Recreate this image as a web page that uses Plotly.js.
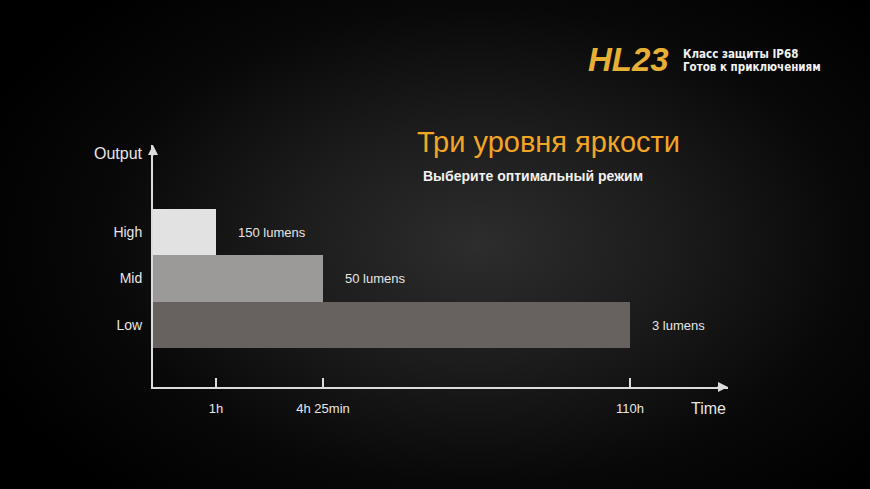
<!DOCTYPE html>
<html>
<head>
<meta charset="utf-8">
<script src="https://cdn.plot.ly/plotly-3.0.1.min.js"></script>
<style>
  html, body { margin:0; padding:0; width:870px; height:489px; overflow:hidden;
    background: radial-gradient(ellipse 62% 70% at 55% 50%, #2d2d2d 0%, #1c1c1c 35%, #080808 70%, #000 100%); }
  #chart { width:870px; height:489px; }
</style>
</head>
<body>
<div id="chart"></div>
<script>
// ---- data ----
const levels = ['Low', 'Mid', 'High'];
const lumens = [3, 50, 150];
const runtimeHours = [110, 4 + 25 / 60, 1];
const runtimeLabels = ['110h', '4h 25min', '1h'];
const lumenLabels = ['3 lumens', '50 lumens', '150 lumens'];

// ---- style ----
const barColors = ['#67625f', '#9b9a99', '#e2e2e2'];
const axisColor = '#dcdcdc';
const textColor = '#e6e6e6';
const font = 'Liberation Sans, Arial, sans-serif';
const narrow = '"DejaVu Sans Condensed", "Liberation Sans Narrow", Liberation Sans, sans-serif';
// non-linear (broken) time scale used by the original artwork: hours -> axis units
const timeStops = { hours: [0, 1, 4 + 25 / 60, 110], units: [0, 63, 170, 477] };
function timeScale(h) {
  const H = timeStops.hours, U = timeStops.units;
  for (let i = 1; i < H.length; i++) {
    if (h <= H[i]) return U[i - 1] + (h - H[i - 1]) / (H[i] - H[i - 1]) * (U[i] - U[i - 1]);
  }
  return U[U.length - 1];
}
const xs = runtimeHours.map(timeScale);

const trace = {
  type: 'bar', orientation: 'h',
  y: levels, x: xs, base: 0, width: 1,
  marker: { color: barColors, line: { width: 0 } },
  customdata: lumens, hoverinfo: 'skip'
};

const annotations = [];
levels.forEach((lv, i) => {
  annotations.push({ x: xs[i], y: lv, xref: 'x', yref: 'y', text: lumenLabels[i],
    showarrow: false, xanchor: 'left', xshift: 20, font: { family: font, size: 13, color: textColor } });
});
// axis arrowheads
annotations.push({ xref: 'paper', yref: 'paper', x: 1, y: 0, ax: -12, ay: 0, axref: 'pixel', ayref: 'pixel',
  text: '', showarrow: true, arrowhead: 2, arrowsize: 1, arrowwidth: 2, arrowcolor: axisColor });
annotations.push({ xref: 'paper', yref: 'paper', x: 0, y: 1, ax: 0, ay: 12, axref: 'pixel', ayref: 'pixel',
  text: '', showarrow: true, arrowhead: 2, arrowsize: 1, arrowwidth: 2, arrowcolor: axisColor });
// axis titles
annotations.push({ xref: 'paper', yref: 'paper', x: 0, y: 1, xanchor: 'right', yanchor: 'middle',
  xshift: -8, yshift: -8, text: 'Output', showarrow: false, font: { family: font, size: 16, color: textColor } });
annotations.push({ xref: 'paper', yref: 'paper', x: 1, y: 0, xanchor: 'right', yanchor: 'middle',
  yshift: -21, text: 'Time', showarrow: false, font: { family: font, size: 16, color: textColor } });
// headings
annotations.push({ xref: 'paper', yref: 'paper', x: 548, y: 142, xanchor: 'center', yanchor: 'middle',
  text: 'Три уровня яркости', showarrow: false, font: { family: font, size: 29, color: '#f3a626' } });
annotations.push({ xref: 'paper', yref: 'paper', x: 421, y: 176, xanchor: 'left', yanchor: 'middle',
  text: '<b>Выберите оптимальный режим</b>', showarrow: false, font: { family: font, size: 14, color: '#f2f2f2' } });
// brand block
annotations.push({ x: 586, y: 60, xanchor: 'left', yanchor: 'middle',
  text: '<b><i>HL23</i></b>', showarrow: false, font: { family: font, size: 33, color: '#e6b034' } });
annotations.push({ x: 681, y: 54, xanchor: 'left', yanchor: 'middle',
  text: '<b>Класс защиты IP68</b>', showarrow: false, font: { family: narrow, size: 11.5, color: '#f2f2f2' } });
annotations.push({ x: 681, y: 67, xanchor: 'left', yanchor: 'middle',
  text: '<b>Готов к приключениям</b>', showarrow: false, font: { family: narrow, size: 11.5, color: '#f2f2f2' } });

// convert pixel-positioned text annotations (headings/brand) to paper coords
const W = 870, Hh = 489, M = { l: 153, r: 142, t: 145, b: 102 };
annotations.forEach(a => {
  if (a.xref === undefined) {
    a.xref = 'paper'; a.yref = 'paper';
    a.x = (a.x - M.l) / (W - M.l - M.r); a.y = 1 - (a.y - M.t) / (Hh - M.t - M.b);
  } else if (a.xref === 'paper' && a.x > 2) {
    a.x = (a.x - M.l) / (W - M.l - M.r); a.y = 1 - (a.y - M.t) / (Hh - M.t - M.b);
  }
});

const layout = {
  width: W, height: Hh,
  margin: M,
  paper_bgcolor: 'rgba(0,0,0,0)', plot_bgcolor: 'rgba(0,0,0,0)',
  showlegend: false,
  bargap: 0,
  xaxis: {
    range: [0, 575], showgrid: false, zeroline: false,
    showline: true, linecolor: axisColor, linewidth: 2,
    tickmode: 'array', tickvals: xs, ticktext: runtimeLabels,
    ticks: 'inside', ticklen: 9, tickwidth: 2, tickcolor: axisColor,
    ticklabelstandoff: 8,
    tickfont: { family: font, size: 13, color: textColor }
  },
  yaxis: {
    type: 'category', range: [-1.333, 3.871], showgrid: false, zeroline: false,
    showline: true, linecolor: axisColor, linewidth: 2,
    ticks: '', ticklabelstandoff: 6,
    tickfont: { family: font, size: 14, color: textColor }
  },
  annotations: annotations
};

Plotly.newPlot('chart', [trace], layout, { displayModeBar: false, staticPlot: true });
</script>
</body>
</html>
